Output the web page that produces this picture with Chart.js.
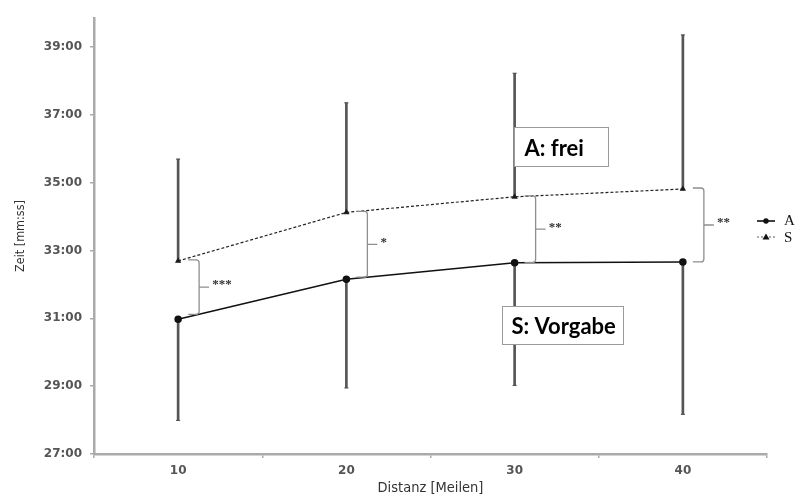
<!DOCTYPE html>
<html>
<head>
<meta charset="utf-8">
<script src="https://cdn.jsdelivr.net/npm/chart.js@4/dist/chart.umd.min.js"></script>
<style>
  body { margin: 0; background: #fff; }
  #wrap { width: 797px; height: 495px; position: relative; }
</style>
</head>
<body>
<div id="wrap"><canvas id="timeChart"></canvas></div>
<script>
// Laufzeiten in Minuten (dezimal)
const distances = ['10', '20', '30', '40'];
const timeA = [30.97, 32.15, 32.64, 32.66];
const timeS = [32.69, 34.12, 34.58, 34.81];
const lowA = [27.99, 28.95, 29.02, 28.17];   // untere Enden der Fehlerbalken (A)
const highS = [35.69, 37.35, 38.22, 39.35];  // obere Enden der Fehlerbalken (S)
const sigLabels = ['***', '*', '**', '**'];
const yTicks = [27, 29, 31, 33, 35, 37, 39];

const fmtTime = v => {
    let m = Math.floor(v);
    let s = Math.round((v - m) * 60);
    return m + ':' + String(s).padStart(2, '0');
};

// kleine Querstriche an den Enden der Fehlerbalken
const capPlugin = {
    id: 'caps',
    afterDatasetsDraw(chart) {
        const ctx = chart.ctx;
        ctx.save();
        ctx.strokeStyle = '#555';
        ctx.lineWidth = 1.2;
        [0, 1].forEach(di => {
            chart.getDatasetMeta(di).data.forEach(bar => {
                const yEnd = di === 0 ? bar.base : bar.y;
                ctx.beginPath();
                ctx.moveTo(bar.x - 2, yEnd);
                ctx.lineTo(bar.x + 2, yEnd);
                ctx.stroke();
            });
        });
        ctx.restore();
    }
};

// geschweifte Klammern mit Signifikanzsternen
const bracePlugin = {
    id: 'braces',
    afterDatasetsDraw(chart) {
        const {ctx, scales: {x, y}} = chart;
        const n = distances.length;
        ctx.save();
        for (let i = 0; i < n; i++) {
            const px = x.getPixelForValue(i);
            const bx = px + 21;
            let aVal = timeA[i];
            if (i < n - 1) {
                const nx = x.getPixelForValue(i + 1);
                const t = (bx - px) / (nx - px);
                aVal = timeA[i] + t * (timeA[i + 1] - timeA[i]);
            }
            const top = y.getPixelForValue(timeS[i]) - 1;
            const bot = y.getPixelForValue(aVal);
            const mid = (top + bot) / 2;

            ctx.strokeStyle = '#8f8f8f';
            ctx.lineWidth = 1.3;
            ctx.beginPath();
            ctx.moveTo(px + 10, top);
            ctx.lineTo(bx - 3, top);
            ctx.quadraticCurveTo(bx, top, bx, top + 3);
            ctx.lineTo(bx, bot - 3);
            ctx.quadraticCurveTo(bx, bot, bx - 3, bot);
            ctx.lineTo(px + 10, bot);
            ctx.moveTo(bx, mid);
            ctx.lineTo(bx + 10, mid);
            ctx.stroke();

            ctx.fillStyle = '#333';
            ctx.font = 'bold 13px "Liberation Serif"';
            ctx.textAlign = 'left';
            ctx.textBaseline = 'middle';
            ctx.fillText(sigLabels[i], bx + 13, mid - 2);
        }
        ctx.restore();
    }
};

// Legende und Textkästen
const overlayPlugin = {
    id: 'overlay',
    afterDraw(chart) {
        const {ctx, scales: {x, y}} = chart;
        ctx.save();

        // Legende
        const lx = 757, lw = 18;
        ctx.strokeStyle = '#111';
        ctx.fillStyle = '#111';
        ctx.lineWidth = 1.6;
        ctx.beginPath(); ctx.moveTo(lx, 221); ctx.lineTo(lx + lw, 221); ctx.stroke();
        ctx.beginPath(); ctx.arc(lx + lw / 2, 221, 2.7, 0, Math.PI * 2); ctx.fill();
        ctx.strokeStyle = '#777';
        ctx.lineWidth = 1.2;
        ctx.setLineDash([2, 2]);
        ctx.beginPath(); ctx.moveTo(lx, 237); ctx.lineTo(lx + lw, 237); ctx.stroke();
        ctx.setLineDash([]);
        ctx.beginPath();
        ctx.moveTo(lx + lw / 2, 233.5); ctx.lineTo(lx + lw / 2 + 3.5, 239.5); ctx.lineTo(lx + lw / 2 - 3.5, 239.5);
        ctx.closePath(); ctx.fill();
        ctx.font = '15px "Liberation Serif"';
        ctx.textAlign = 'left';
        ctx.textBaseline = 'middle';
        ctx.fillText('A', 784, 221);
        ctx.fillText('S', 784, 238);

        // Textkästen
        const boxes = [
            {text: 'A: frei', idx: 2, dx: -1, val: 36.63, w: 94, h: 39, tx: 10, ty: 28},
            {text: 'S: Vorgabe', idx: 2, dx: -13, val: 31.36, w: 121, h: 38, tx: 9, ty: 27}
        ];
        boxes.forEach(b => {
            const left = Math.round(x.getPixelForValue(b.idx) + b.dx) + 0.5;
            const top = Math.round(y.getPixelForValue(b.val)) + 0.5;
            ctx.fillStyle = '#fff';
            ctx.fillRect(left, top, b.w, b.h);
            ctx.strokeStyle = '#9a9a9a';
            ctx.lineWidth = 1;
            ctx.strokeRect(left, top, b.w, b.h);
            ctx.fillStyle = '#000';
            ctx.font = 'bold 22px Lato';
            ctx.textBaseline = 'alphabetic';
            ctx.fillText(b.text, left + b.tx, top + b.ty);
        });
        ctx.restore();
    }
};

let ctx = document.getElementById('timeChart').getContext('2d');
let chart = new Chart(ctx, {
    type: 'line',
    data: {
        labels: distances,
        datasets: [{
            type: 'bar',
            data: distances.map((d, i) => [lowA[i], timeA[i]]),
            backgroundColor: '#555',
            barThickness: 2,
            grouped: false,
            order: 3
        }, {
            type: 'bar',
            data: distances.map((d, i) => [timeS[i], highS[i]]),
            backgroundColor: '#555',
            barThickness: 2,
            grouped: false,
            order: 3
        }, {
            label: 'A',
            data: timeA,
            borderColor: '#111',
            backgroundColor: '#111',
            borderWidth: 1.5,
            pointStyle: 'circle',
            pointRadius: 3,
            tension: 0,
            order: 1
        }, {
            label: 'S',
            data: timeS,
            borderColor: '#222',
            backgroundColor: '#111',
            borderWidth: 1.2,
            borderDash: [3, 2],
            pointStyle: 'triangle',
            pointRadius: 2.5,
            tension: 0,
            order: 1
        }]
    },
    options: {
        responsive: true,
        maintainAspectRatio: false,
        animation: false,
        devicePixelRatio: 1,
        layout: { padding: { top: 18, right: 30, left: 0, bottom: 0 } },
        plugins: {
            legend: { display: false },
            tooltip: { enabled: false }
        },
        scales: {
            x: {
                type: 'category',
                offset: true,
                afterFit: s => { s.height = 41; },
                grid: { display: true, drawOnChartArea: false, offset: true, tickLength: 4, color: '#aaa', lineWidth: 1.5 },
                border: { display: true, color: '#aaa', width: 2.5 },
                ticks: { color: '#555', padding: 6, font: { family: 'DejaVu Sans', size: 12, weight: 'bold' } },
                title: {
                    display: true,
                    text: 'Distanz [Meilen]',
                    color: '#333',
                    padding: { top: 0, bottom: 0 },
                    font: { family: '"Liberation Sans Narrow", "DejaVu Sans Condensed", sans-serif', size: 14.5, lineHeight: 1 }
                }
            },
            y: {
                min: 27,
                max: 39.85,
                afterFit: s => { s.width = 94; },
                afterBuildTicks: s => { s.ticks = yTicks.map(v => ({ value: v })); },
                grid: { display: true, drawOnChartArea: false, tickLength: 4, color: '#aaa', lineWidth: 1.5 },
                border: { display: true, color: '#aaa', width: 2.5 },
                ticks: {
                    color: '#555',
                    padding: 8,
                    font: { family: 'DejaVu Sans', size: 12, weight: 'bold' },
                    callback: v => fmtTime(v)
                },
                title: {
                    display: true,
                    text: 'Zeit [mm:ss]',
                    color: '#333',
                    padding: { top: 14, bottom: 0 },
                    font: { family: '"Liberation Sans Narrow", "DejaVu Sans Condensed", sans-serif', size: 12.5, lineHeight: 1 }
                }
            }
        }
    },
    plugins: [capPlugin, bracePlugin, overlayPlugin]
});
</script>
</body>
</html>
